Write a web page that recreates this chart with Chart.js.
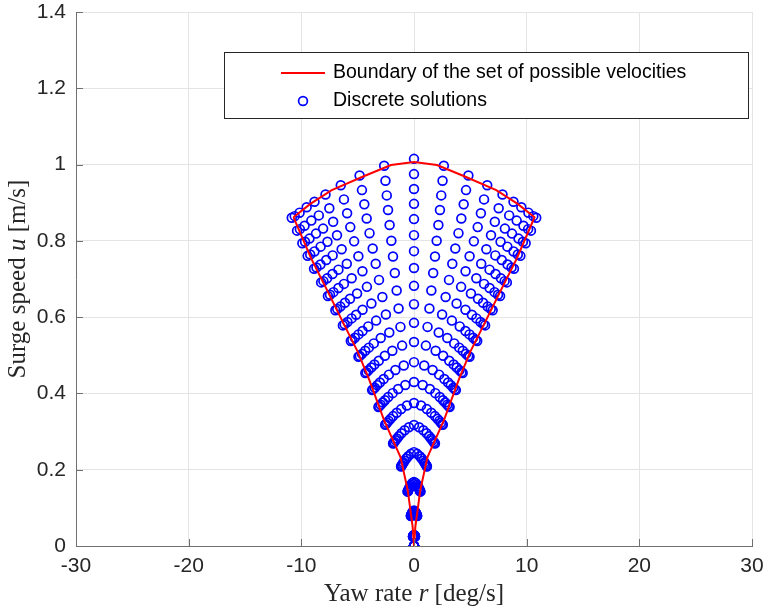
<!DOCTYPE html>
<html>
<head>
<meta charset="utf-8">
<script src="https://cdn.jsdelivr.net/npm/chart.js@4/dist/chart.umd.min.js"></script>
<style>
html,body{margin:0;padding:0;background:#fff;}
#wrap{width:767px;height:607px;}
</style>
</head>
<body>
<div id="wrap"><canvas id="c" width="767" height="607"></canvas></div>
<script>
// ---- data ----
// centre speed (r = 0) of every discrete speed level, top to bottom [m/s]
const levelU = [1.015, 0.975, 0.936, 0.897, 0.857, 0.815, 0.773, 0.729, 0.682, 0.634, 0.585, 0.535, 0.482, 0.430, 0.375, 0.317, 0.246, 0.168, 0.093, 0.029, 0];
// outermost yaw rate reached on every level [deg/s]
const levelR = [10.85, 10.38, 9.91, 9.44, 8.87, 8.24, 7.64, 6.98, 6.31, 5.61, 4.93, 4.32, 3.72, 3.16, 2.56, 1.86, 1.15, 0.57, 0.28, 0.09, 0];
// yaw-rate share of each ray (fraction of the level's outermost yaw rate)
const rayR = [-1, -0.976, -0.936, -0.878, -0.814, -0.724, -0.599, -0.445, -0.244, 0, 0.244, 0.445, 0.599, 0.724, 0.814, 0.878, 0.936, 0.976, 1];
// speed share of each ray (fraction of the level's centre speed)
const rayU = [0.848, 0.852, 0.861, 0.875, 0.889, 0.908, 0.932, 0.957, 0.982, 1, 0.982, 0.957, 0.932, 0.908, 0.889, 0.875, 0.861, 0.852, 0.848];

// boundary of the set of possible velocities
const boundaryR = [-10.7, -9.13, -7.65, -6.18, -4.99, -3.96, -2.66, -1.2, -0.56, -0.12, 0, 0.12, 0.56, 1.2, 2.66, 3.96, 4.99, 6.18, 7.65, 9.13, 10.7, 9.2, 7.3, 4.41, 2.04, 0, -2.04, -4.41, -7.3, -9.2, -10.7];
const boundaryU = [0.862, 0.754, 0.667, 0.579, 0.509, 0.435, 0.330, 0.233, 0.147, 0.050, 0, 0.050, 0.147, 0.233, 0.330, 0.435, 0.509, 0.579, 0.667, 0.754, 0.862, 0.897, 0.933, 0.970, 0.999, 1.007, 0.999, 0.970, 0.933, 0.897, 0.862];

const xTicks = [-30, -20, -10, 0, 10, 20, 30];
const yTicks = [0, 0.2, 0.4, 0.6, 0.8, 1, 1.2, 1.4];
const legendLabels = ['Boundary of the set of possible velocities', 'Discrete solutions'];

// ---- build the tables the library needs ----
const boundaryPts = boundaryR.map((r, i) => ({x: r, y: boundaryU[i]}));
const discretePts = [];
levelU.forEach((u, k) => {
  rayR.forEach((f, j) => {
    discretePts.push({x: f * levelR[k], y: rayU[j] * u});
  });
});

const SANS = '"Liberation Sans", Arial, sans-serif';
const SERIF = '"Liberation Serif", "Times New Roman", serif';

const extras = {
  id: 'extras',
  afterDraw(chart) {
    const ctx = chart.ctx;
    const a = chart.chartArea;
    const xs = chart.scales.x, ys = chart.scales.y;
    ctx.save();
    // inward tick marks
    ctx.strokeStyle = '#707070';
    ctx.lineWidth = 1;
    ctx.beginPath();
    xTicks.forEach(v => {
      const px = Math.round(xs.getPixelForValue(v)) + 0.5;
      ctx.moveTo(px, a.bottom); ctx.lineTo(px, a.bottom - 7);
    });
    yTicks.forEach(v => {
      const py = Math.round(ys.getPixelForValue(v)) + 0.5;
      ctx.moveTo(a.left, py); ctx.lineTo(a.left + 7, py);
    });
    ctx.stroke();

    // legend box
    const lx = 224, ly = 52, lw = 524, lh = 66;
    ctx.fillStyle = '#ffffff';
    ctx.fillRect(lx, ly, lw, lh);
    ctx.strokeStyle = '#262626';
    ctx.lineWidth = 1;
    ctx.strokeRect(lx + 0.5, ly + 0.5, lw, lh);
    ctx.strokeStyle = '#ff0000';
    ctx.lineWidth = 2;
    ctx.beginPath(); ctx.moveTo(281, 73); ctx.lineTo(325, 73); ctx.stroke();
    ctx.strokeStyle = '#0000ff';
    ctx.lineWidth = 1.7;
    ctx.beginPath(); ctx.arc(303, 101, 4.4, 0, Math.PI * 2); ctx.stroke();
    ctx.fillStyle = '#000000';
    ctx.font = '19.5px ' + SANS;
    ctx.textBaseline = 'middle';
    ctx.textAlign = 'left';
    ctx.fillText(legendLabels[0], 333, 73);
    ctx.fillText(legendLabels[1], 333, 101);

    // axis titles with italic symbols
    const drawParts = (parts, cx, cy, rot) => {
      ctx.save();
      ctx.translate(cx, cy);
      ctx.rotate(rot);
      ctx.fillStyle = '#262626';
      ctx.textBaseline = 'middle';
      ctx.textAlign = 'left';
      let total = 0;
      parts.forEach(p => { ctx.font = (p.i ? 'italic ' : '') + '25px ' + SERIF; total += ctx.measureText(p.t).width; });
      let x = -total / 2;
      parts.forEach(p => {
        ctx.font = (p.i ? 'italic ' : '') + '25px ' + SERIF;
        ctx.fillText(p.t, x, 0);
        x += ctx.measureText(p.t).width;
      });
      ctx.restore();
    };
    drawParts([{t: 'Yaw rate ', i: false}, {t: 'r', i: true}, {t: ' [deg/s]', i: false}], (a.left + a.right) / 2, 594, 0);
    drawParts([{t: 'Surge speed ', i: false}, {t: 'u', i: true}, {t: ' [m/s]', i: false}], 18, (a.top + a.bottom) / 2, -Math.PI / 2);
    ctx.restore();
  }
};

new Chart(document.getElementById('c'), {
  type: 'scatter',
  data: {
    datasets: [
      {
        label: legendLabels[0],
        data: boundaryPts,
        showLine: true,
        borderColor: '#ff0000',
        borderWidth: 2,
        pointRadius: 0,
        tension: 0,
        fill: false,
        order: 0
      },
      {
        label: legendLabels[1],
        data: discretePts,
        showLine: false,
        borderColor: '#0000ff',
        backgroundColor: 'rgba(0,0,0,0)',
        borderWidth: 1.7,
        pointRadius: 4.4,
        pointStyle: 'circle',
        order: 1
      }
    ]
  },
  options: {
    responsive: false,
    animation: false,
    devicePixelRatio: 1,
    layout: {padding: {top: 0, right: 0, left: 0, bottom: 0}},
    plugins: {legend: {display: false}, tooltip: {enabled: false}},
    scales: {
      x: {
        type: 'linear', min: -30, max: 30,
        afterBuildTicks: s => { s.ticks = xTicks.map(v => ({value: v})); },
        afterFit: s => { s.height = 61; s.paddingRight = 15; s.paddingLeft = 0; },
        grid: {color: '#e4e4e4', drawTicks: false, lineWidth: 1},
        border: {color: '#707070', width: 1},
        ticks: {font: {family: SANS, size: 21}, color: '#262626', padding: 8, maxRotation: 0,
                callback: v => String(v)}
      },
      y: {
        type: 'linear', min: 0, max: 1.4,
        afterBuildTicks: s => { s.ticks = yTicks.map(v => ({value: v})); },
        afterFit: s => { s.width = 76; s.paddingTop = 12; s.paddingBottom = 0; },
        grid: {color: '#e4e4e4', drawTicks: false, lineWidth: 1},
        border: {color: '#707070', width: 1},
        ticks: {font: {family: SANS, size: 21}, color: '#262626', padding: 10,
                callback: v => String(Math.round(v * 10) / 10)}
      }
    }
  },
  plugins: [extras]
});
</script>
</body>
</html>
